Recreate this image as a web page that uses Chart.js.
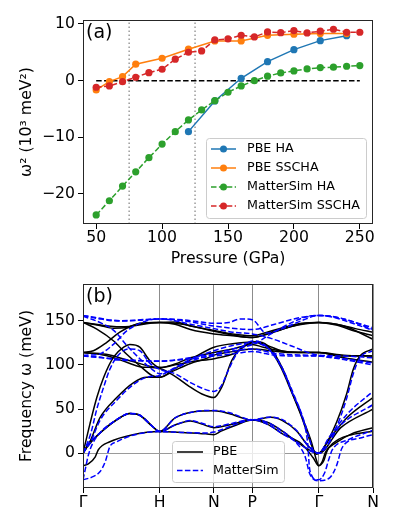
<!DOCTYPE html>
<html>
<head>
<meta charset="utf-8">
<script src="https://cdn.jsdelivr.net/npm/chart.js@4.4.0/dist/chart.umd.min.js"></script>
<style>
    html, body { margin: 0; padding: 0; background: #fff; }
    #wrap { position: relative; width: 397px; height: 529px; }
    canvas { position: absolute; left: 0; }
    #pressureChart { top: 0; }
    #bandChart { top: 270px; }
</style>
</head>
<body>
<div id="wrap">
    <canvas id="pressureChart" width="397" height="270" style="width:397px;height:270px"></canvas>
    <canvas id="bandChart" width="397" height="259" style="width:397px;height:259px"></canvas>
</div>
<script>
// ---- panel (a): omega^2 vs pressure ----
const seriesNames = ['PBE HA', 'PBE SSCHA', 'MatterSim HA', 'MatterSim SSCHA'];

const pbeHaP = [120, 140, 160, 180, 200, 220, 240];
const pbeHaW = [-9.0, -3.58, 0.42, 3.35, 5.47, 7.06, 7.94];

const pbeSschaP = [50, 60, 70, 80, 100, 120, 140, 160, 180, 200, 220, 240];
const pbeSschaW = [-1.64, -0.18, 0.7, 2.9, 3.95, 5.55, 7.0, 7.0, 8.0, 8.2, 8.3, 8.3];

const msHaP = [50, 60, 70, 80, 90, 100, 110, 120, 130, 140, 150, 160, 170, 180, 190, 200, 210, 220, 230, 240, 250];
const msHaW = [-23.7, -21.2, -18.6, -16.1, -13.6, -11.2, -9.0, -6.94, -5.17, -3.53, -2.05, -0.94, 0.0, 0.78, 1.36, 1.71, 2.07, 2.3, 2.37, 2.54, 2.65];

const msSschaP = [50, 60, 70, 80, 90, 100, 110, 120, 130, 140, 150, 160, 170, 180, 190, 200, 210, 220, 230, 240, 250];
const msSschaW = [-1.17, -0.94, -0.18, 0.6, 1.41, 2.01, 3.78, 5.01, 5.24, 7.18, 7.36, 8.01, 7.71, 8.6, 8.47, 8.83, 8.42, 8.72, 9.07, 8.54, 8.54];

const pressureTicks = [50, 100, 150, 200, 250];
const omegaTicks = [-20, -10, 0, 10];
const markerLines = [75, 125];   // dotted guides (GPa)
const zeroLineSpan = [50, 250];

// ---- panel (b): phonon bands, [k, meV] ----
const kTicks = [0, 1, 1.707, 2.207, 3.073, 3.78];
const kLabels = ['Γ', 'H', 'N', 'P', 'Γ', 'N'];
const freqTicks = [0, 50, 100, 150];
const bandNames = ['PBE', 'MatterSim'];

const pbeBands = [
    [[0,148],[0.22,144.5],[0.4,141.5],[0.57,142.5],[0.74,147],[1,148],[1.2,148.5],[1.4,144],[1.707,139],[1.95,135],[2.207,133],[2.4,137],[2.6,142],[2.85,147],[3.073,148],[3.3,146],[3.55,141],[3.78,137]],
    [[0,148],[0.18,140.5],[0.4,127],[0.57,112],[0.74,99],[0.9,88],[1,86],[1.2,94],[1.4,101.5],[1.6,107],[1.707,111],[1.95,115],[2.207,118],[2.45,116],[2.7,114],[3.073,114],[3.4,111],[3.78,110]],
    [[0,114],[0.135,116],[0.31,125.5],[0.48,137],[0.655,144.5],[0.83,147.5],[1,148],[1.2,146],[1.4,140],[1.707,135],[1.95,133],[2.207,131],[2.45,136],[2.7,143],[2.9,147],[3.073,148],[3.3,145],[3.55,138],[3.78,133]],
    [[0,114],[0.3,110.5],[0.57,103],[0.74,98],[1,96],[1.2,87],[1.37,76.5],[1.55,67],[1.707,63],[1.81,75],[1.94,105],[2.07,120],[2.207,125],[2.28,126],[2.45,116],[2.58,97],[2.71,71],[2.85,41],[2.975,10],[3.04,-1],[3.073,0],[3.131,5],[3.305,35],[3.436,67],[3.523,95],[3.61,110],[3.78,118]],
    [[0,0],[0.09,33],[0.18,63],[0.27,86],[0.4,109],[0.53,120],[0.61,123],[0.74,120],[0.87,105],[1,97],[1.2,101],[1.4,108],[1.707,114],[1.95,118],[2.207,123],[2.35,120],[2.5,117],[2.7,114.5],[3.073,114],[3.4,108],[3.78,103]],
    [[0,0],[0.1,15],[0.22,40],[0.44,63],[0.66,80],[0.83,86],[1,86],[1.2,96],[1.4,106],[1.707,120],[1.95,124],[2.207,126],[2.3,126],[2.45,118],[2.6,96],[2.73,68],[2.86,40],[2.98,12],[3.04,-7],[3.073,-14],[3.1,-13],[3.14,-8],[3.17,0],[3.2,6],[3.33,15.7],[3.5,21],[3.78,25]],
    [[0,0],[0.048,7.5],[0.22,22.6],[0.44,37.7],[0.61,45],[0.74,43],[0.91,30],[1,24.5],[1.2,40],[1.45,47],[1.707,48],[1.9,45],[2.207,37.5],[2.45,40.7],[2.6,37],[2.78,25.6],[2.95,7],[3.073,0],[3.2,15],[3.45,41],[3.78,63]],
    [[0,-14],[0.07,-12],[0.16,-4],[0.2,4],[0.35,13],[0.65,21],[1,24.5],[1.3,23.5],[1.6,22],[1.707,21],[1.8,25],[2.0,32],[2.207,37.5],[2.4,33],[2.6,22],[2.85,10.5],[3.0,-5],[3.073,-14],[3.12,-9],[3.16,1],[3.3,12],[3.5,22],[3.78,29]],
    [[0,0],[0.06,8],[0.22,23],[0.44,38],[0.61,45],[0.74,43],[0.91,30],[1,24.5],[1.2,32],[1.4,36.5],[1.55,33],[1.707,29],[1.9,32],[2.207,37.5],[2.4,35],[2.6,25],[2.8,12],[3.073,0],[3.36,29],[3.78,50]],
    [[0,148],[0.5,143],[1,148],[1.3,146],[1.707,138],[2.207,131],[2.5,138],[2.8,145],[3.073,148],[3.4,144],[3.78,129]],
    [[0,114],[0.3,112],[0.6,105],[1,97],[1.2,100],[1.45,104],[1.707,107],[2.0,114],[2.207,126],[2.41,121.7],[2.584,116],[2.8,114],[3.073,114],[3.4,110],[3.78,110]]
];

const msBands = [
    [[0,156],[0.22,152],[0.48,149.5],[0.74,150.5],[1,152],[1.3,151],[1.5,149],[1.707,147],[1.9,148],[2.05,152],[2.207,151],[2.39,136],[2.6,141],[2.85,150],[3.073,156],[3.3,154],[3.55,148],[3.78,142]],
    [[0,155],[0.22,148],[0.4,139],[0.57,122],[0.74,107],[0.9,95],[1,90],[1.2,96],[1.4,104],[1.707,112],[1.95,118],[2.207,123],[2.45,135],[2.7,147],[2.9,154],[3.073,156],[3.3,153],[3.55,146],[3.78,139]],
    [[0,111],[0.18,111.5],[0.4,123.5],[0.57,138.5],[0.83,150],[1,152],[1.2,150],[1.4,146],[1.707,141],[1.95,137],[2.207,135],[2.45,130],[2.7,122],[3.073,111],[3.4,110],[3.78,108]],
    [[0,110],[0.2,109],[0.4,106],[0.6,105],[1,104.5],[1.3,106],[1.707,110],[2.0,113],[2.207,115],[2.5,111],[2.8,110],[3.073,110],[3.4,107],[3.78,102]],
    [[0,0],[0.1,22],[0.18,50],[0.27,75],[0.35,95],[0.45,110],[0.6,118],[0.74,116],[0.87,102],[1,95],[1.2,90],[1.4,80],[1.6,72],[1.707,70],[1.8,76],[1.9,95],[2.0,112],[2.1,122],[2.207,127],[2.3,126],[2.45,115],[2.6,95],[2.73,68],[2.86,40],[2.93,10],[2.95,-15],[2.98,-25],[3.02,-29.5],[3.073,-30],[3.15,-22],[3.2,-8],[3.25,4],[3.45,15],[3.78,26]],
    [[0,0],[0.1,13],[0.22,37],[0.44,60],[0.66,78],[0.83,86],[1,88],[1.2,97],[1.4,106],[1.707,116],[1.95,122],[2.207,125],[2.45,116],[2.6,96],[2.73,70],[2.86,42],[2.96,14],[3.0,3],[3.073,0],[3.131,3],[3.305,30],[3.436,62],[3.523,90],[3.61,108],[3.78,116]],
    [[0,-30],[0.03,-18],[0.07,-2],[0.12,10],[0.22,23],[0.44,38],[0.61,45],[0.74,43],[0.91,30],[1,24.5],[1.2,40],[1.45,47],[1.707,48.5],[1.9,46],[2.207,38],[2.45,41],[2.6,38],[2.78,26],[2.95,7],[3.073,0],[3.2,17],[3.45,45],[3.78,70]],
    [[0,-30],[0.13,-26.5],[0.22,-21],[0.29,-9.5],[0.35,7.5],[0.44,13],[0.66,20.7],[1,24.5],[1.3,23.5],[1.6,23],[1.707,24],[1.85,28],[2.0,33],[2.207,38],[2.4,33],[2.6,22],[2.8,10],[2.9,-5],[2.95,-22],[3.0,-29],[3.073,-31],[3.218,-27.5],[3.305,-14],[3.37,4.8],[3.436,12.4],[3.6,17],[3.78,21]],
    [[0,0],[0.05,8],[0.22,23],[0.44,38],[0.61,45],[0.74,43],[0.91,30],[1,24.5],[1.2,32],[1.4,37],[1.55,34],[1.707,30],[1.9,33],[2.207,38],[2.4,35],[2.6,25],[2.8,12],[3.073,0],[3.36,32],[3.78,55]],
    [[0,156],[0.5,150],[1,152],[1.3,150],[1.707,144],[2.207,140],[2.5,146],[2.8,153],[3.073,156],[3.4,152],[3.78,140]],
    [[0,110],[0.4,107],[1,104],[1.4,108],[1.707,112],[2.207,118],[2.5,113],[3.073,110],[3.4,106],[3.78,100]]
];

// ---- styling ----
const colors = {
    pbeHa: '#1f77b4',
    pbeSscha: '#ff7f0e',
    msHa: '#2ca02c',
    msSscha: '#d62728',
    pbe: '#000000',
    ms: '#0000ff'
};
const dash = [5.5, 2.4];

Chart.defaults.font.family = "'DejaVu Sans', sans-serif";
Chart.defaults.font.size = 15.7;
Chart.defaults.color = '#000';
Chart.defaults.animation = false;

const minus = v => (v < 0 ? '\u2212' + Math.abs(v) : String(v));

// frame, panel label and legend box drawn on top of the data
const panelDecor = {
    id: 'panelDecor',
    afterDatasetsDraw(chart, args, o) {
        const ctx = chart.ctx;
        const a = chart.chartArea;
        ctx.save();
        ctx.strokeStyle = '#262626';
        ctx.lineWidth = 1;
        ctx.strokeRect(a.left + 0.5, a.top + 0.5, a.right - a.left - 1, a.bottom - a.top - 1);

        ctx.fillStyle = '#000';
        ctx.font = "19px 'DejaVu Sans', sans-serif";
        ctx.textBaseline = 'middle';
        ctx.textAlign = 'left';
        ctx.fillText(o.label, a.left + 3, a.top + 13);

        const L = o.legend;
        ctx.beginPath();
        ctx.roundRect(L.x + 0.5, L.y + 0.5, L.w, L.h, 3);
        ctx.fillStyle = 'rgba(255,255,255,0.8)';
        ctx.fill();
        ctx.strokeStyle = '#cccccc';
        ctx.stroke();

        ctx.font = "12.7px 'DejaVu Sans', sans-serif";
        L.items.forEach((it, i) => {
            const cy = L.y + L.first + i * L.step;
            ctx.beginPath();
            ctx.setLineDash(it.dashed ? dash : []);
            ctx.strokeStyle = it.color;
            ctx.lineWidth = 1.5;
            ctx.moveTo(L.x + L.lineFrom, cy);
            ctx.lineTo(L.x + L.lineTo, cy);
            ctx.stroke();
            ctx.setLineDash([]);
            if (it.marker) {
                ctx.beginPath();
                ctx.fillStyle = it.color;
                ctx.arc(L.x + (L.lineFrom + L.lineTo) / 2, cy, 3.5, 0, Math.PI * 2);
                ctx.fill();
            }
            ctx.fillStyle = '#000';
            ctx.fillText(it.text, L.x + L.textX, cy);
        });
        ctx.restore();
    }
};

function pts(xs, ys) {
    return xs.map((x, i) => ({ x: x, y: ys[i] }));
}

function series(label, xs, ys, color, dashed, order) {
    return {
        label: label,
        data: pts(xs, ys),
        borderColor: color,
        backgroundColor: color,
        borderWidth: 1.5,
        borderDash: dashed ? dash : [],
        pointRadius: 3.6,
        pointBorderWidth: 0,
        tension: 0,
        order: order
    };
}

function guide(data, color, dashPattern, width, order) {
    return {
        data: data,
        borderColor: color,
        borderWidth: width,
        borderDash: dashPattern,
        pointRadius: 0,
        tension: 0,
        order: order
    };
}

const yTopMin = -25.3, yTopMax = 10.7;

const pressureDatasets = [
    series(seriesNames[3], msSschaP, msSschaW, colors.msSscha, true, 0),
    series(seriesNames[2], msHaP, msHaW, colors.msHa, true, 1),
    series(seriesNames[1], pbeSschaP, pbeSschaW, colors.pbeSscha, false, 2),
    series(seriesNames[0], pbeHaP, pbeHaW, colors.pbeHa, false, 3),
    guide(zeroLineSpan.map(p => ({ x: p, y: 0 })), '#000', dash, 1.5, 4)
].concat(markerLines.map(p => guide([{ x: p, y: yTopMin }, { x: p, y: yTopMax }], '#8c8c8c', [1.5, 2.5], 1.3, 5)));

new Chart(document.getElementById('pressureChart'), {
    type: 'line',
    data: { datasets: pressureDatasets },
    options: {
        responsive: false,
        layout: { padding: { top: 20, right: 24, left: 0, bottom: 0 } },
        plugins: {
            legend: { display: false },
            tooltip: { enabled: false },
            panelDecor: {
                label: '(a)',
                legend: {
                    x: 206, y: 138, w: 160, h: 80,
                    first: 11, step: 19, lineFrom: 5, lineTo: 30, textX: 41,
                    items: [
                        { text: seriesNames[0], color: colors.pbeHa, dashed: false, marker: true },
                        { text: seriesNames[1], color: colors.pbeSscha, dashed: false, marker: true },
                        { text: seriesNames[2], color: colors.msHa, dashed: true, marker: true },
                        { text: seriesNames[3], color: colors.msSscha, dashed: true, marker: true }
                    ]
                }
            }
        },
        scales: {
            x: {
                type: 'linear',
                min: 40,
                max: 260,
                afterBuildTicks: s => { s.ticks = pressureTicks.map(v => ({ value: v })); },
                afterFit: s => { s.height = 46; },
                border: { display: false },
                grid: { drawOnChartArea: false, tickLength: 5, tickColor: '#000' },
                ticks: { padding: 0, maxRotation: 0, autoSkip: false },
                title: { display: true, text: 'Pressure (GPa)', padding: { top: 0, bottom: 2 } }
            },
            y: {
                min: yTopMin,
                max: yTopMax,
                afterBuildTicks: s => { s.ticks = omegaTicks.map(v => ({ value: v })); },
                afterFit: s => { s.width = 83; },
                border: { display: false },
                grid: { drawOnChartArea: false, tickLength: 5, tickColor: '#000' },
                ticks: { padding: 3, callback: v => minus(v) },
                title: { display: true, text: 'ω² (10³ meV²)', padding: { top: 18, bottom: 0 } }
            }
        }
    },
    plugins: [panelDecor]
});

// ---- panel (b) ----
function band(points, color, dashed, order) {
    return {
        data: points.map(p => ({ x: p[0], y: p[1] })),
        borderColor: color,
        borderWidth: 1.5,
        borderDash: dashed ? dash : [],
        pointRadius: 0,
        cubicInterpolationMode: 'monotone',
        order: order
    };
}

const bandDatasets = msBands.map(b => band(b, colors.ms, true, 0))
    .concat(pbeBands.map(b => band(b, colors.pbe, false, 1)));

new Chart(document.getElementById('bandChart'), {
    type: 'line',
    data: { datasets: bandDatasets },
    options: {
        responsive: false,
        layout: { padding: { top: 14, right: 24, left: 0, bottom: 0 } },
        plugins: {
            legend: { display: false },
            tooltip: { enabled: false },
            panelDecor: {
                label: '(b)',
                legend: {
                    x: 172, y: 171, w: 112, h: 41,
                    first: 11, step: 18.5, lineFrom: 5, lineTo: 31, textX: 41,
                    items: [
                        { text: bandNames[0], color: colors.pbe, dashed: false, marker: false },
                        { text: bandNames[1], color: colors.ms, dashed: true, marker: false }
                    ]
                }
            }
        },
        scales: {
            x: {
                type: 'linear',
                min: kTicks[0],
                max: kTicks[kTicks.length - 1],
                afterBuildTicks: s => { s.ticks = kTicks.map(v => ({ value: v })); },
                afterFit: s => { s.height = 41; },
                border: { display: false },
                grid: { color: '#8c8c8c', lineWidth: 1, tickLength: 5, tickColor: '#000' },
                ticks: { padding: 1, maxRotation: 0, autoSkip: false, callback: (v, i) => kLabels[i] }
            },
            y: {
                min: -39.3,
                max: 191.5,
                afterBuildTicks: s => { s.ticks = freqTicks.map(v => ({ value: v })); },
                afterFit: s => { s.width = 83; },
                border: { display: false },
                grid: {
                    color: c => (c.tick && c.tick.value === 0 ? '#9a9a9a' : 'rgba(0,0,0,0)'),
                    lineWidth: 1,
                    tickLength: 5,
                    tickColor: '#000'
                },
                ticks: { padding: 3, callback: v => minus(v) },
                title: { display: true, text: 'Frequency ω (meV)', padding: { top: 18, bottom: 0 } }
            }
        }
    },
    plugins: [panelDecor]
});
</script>
</body>
</html>
